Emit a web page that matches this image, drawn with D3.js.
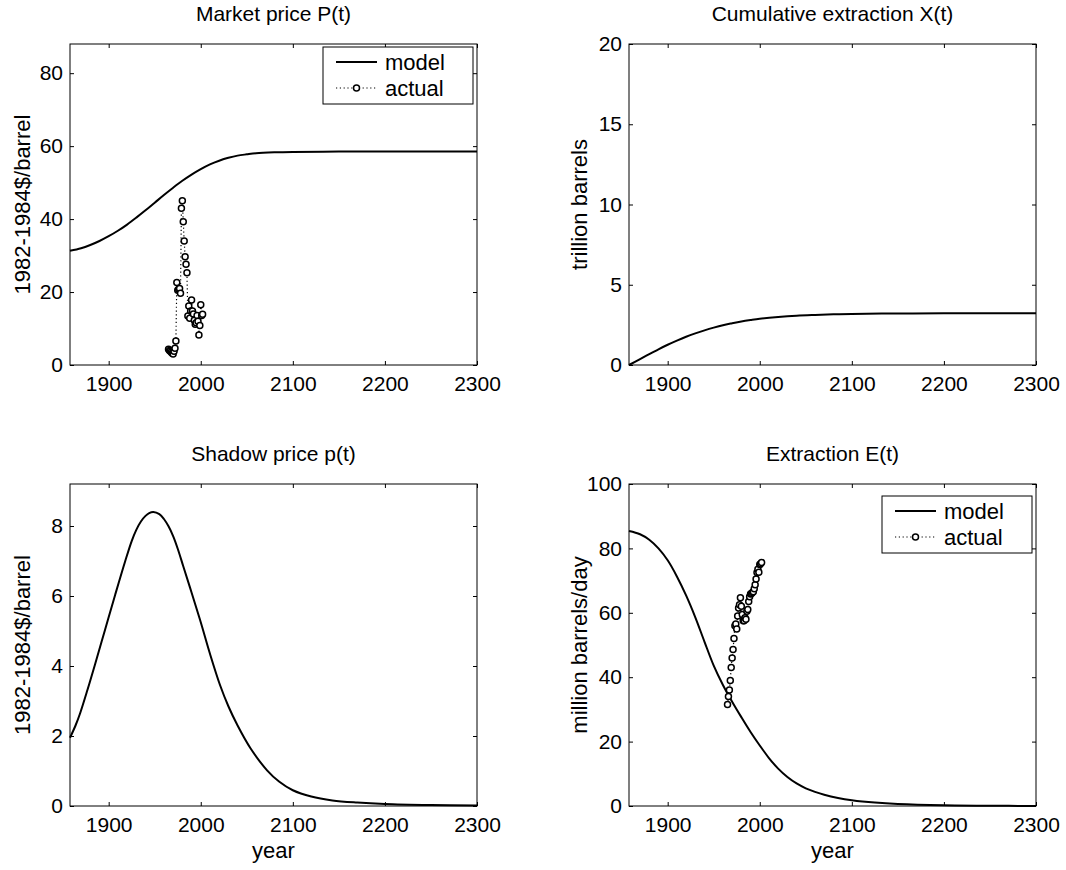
<!DOCTYPE html>
<html>
<head>
<meta charset="utf-8">
<script src="https://cdn.jsdelivr.net/npm/d3@7"></script>
<style>
  html, body { margin: 0; padding: 0; background: #fff; }
  svg { display: block; }
  text { font-family: "Liberation Sans", Arial, sans-serif; fill: #000; }
</style>
</head>
<body>
<svg id="chart" width="1066" height="870"></svg>
<script>
// ---- data -------------------------------------------------------------
const yearDomain = [1858, 2300];
const yearTicks = [1900, 2000, 2100, 2200, 2300];

// model trajectories: [year, value]
const marketPriceModel = [
  [1858, 31.3], [1870, 32.0], [1880, 32.9], [1890, 34.0], [1900, 35.3],
  [1910, 36.8], [1920, 38.5], [1930, 40.4], [1940, 42.4], [1950, 44.5],
  [1960, 46.6], [1970, 48.6], [1980, 50.5], [1990, 52.2], [2000, 53.7],
  [2010, 55.0], [2020, 56.0], [2030, 56.8], [2040, 57.4], [2050, 57.75],
  [2060, 58.05], [2080, 58.3], [2100, 58.42], [2150, 58.5], [2200, 58.5],
  [2300, 58.5]
];
const cumulativeModel = [
  [1858, 0], [1870, 0.37], [1880, 0.68], [1890, 0.98], [1900, 1.26],
  [1910, 1.52], [1920, 1.76], [1930, 1.97], [1940, 2.16], [1950, 2.33],
  [1960, 2.48], [1970, 2.60], [1980, 2.71], [1990, 2.80], [2000, 2.88],
  [2020, 2.99], [2040, 3.07], [2060, 3.12], [2080, 3.16], [2100, 3.18],
  [2150, 3.21], [2200, 3.22], [2300, 3.22]
];
const shadowPriceModel = [
  [1858, 1.95], [1864, 2.3], [1869, 2.65], [1877, 3.32], [1885, 4.03],
  [1896, 5.03], [1907, 6.03], [1918, 7.0], [1925, 7.57], [1930, 7.89],
  [1935, 8.13], [1940, 8.29], [1944, 8.37], [1948.5, 8.4], [1955, 8.34],
  [1960, 8.2], [1965, 7.99], [1970, 7.71], [1975, 7.35], [1981, 6.85],
  [1990, 6.1], [2000, 5.25], [2010, 4.35], [2021, 3.45], [2030, 2.85],
  [2040, 2.3], [2054, 1.65], [2072, 1.02], [2085, 0.7], [2100, 0.45],
  [2120, 0.27], [2143, 0.16], [2170, 0.1], [2200, 0.06], [2250, 0.03],
  [2300, 0.015]
];
const extractionModel = [
  [1858, 85.4], [1870, 84.4], [1880, 82.7], [1890, 80.0], [1900, 76.3],
  [1910, 71.3], [1920, 65.4], [1930, 58.6], [1940, 51.0], [1950, 43.6],
  [1960, 37.6], [1970, 32.4], [1980, 27.6], [1990, 23.0], [2000, 18.8],
  [2010, 14.9], [2020, 11.6], [2030, 9.0], [2040, 7.0], [2050, 5.5],
  [2060, 4.4], [2070, 3.5], [2085, 2.5], [2100, 1.8], [2125, 1.05],
  [2150, 0.6], [2200, 0.2], [2250, 0.07], [2300, 0.02]
];

// observed series, 1965-2002
const actualYears = d3.range(1965, 2003);
const actualPrice = [
  4.3, 4.0, 3.8, 3.5, 3.2, 3.0, 3.8, 4.6, 6.6, 22.6,
  20.5, 20.8, 21.0, 19.7, 43.0, 45.0, 39.3, 34.0, 29.7, 27.6,
  25.3, 13.4, 16.2, 12.8, 14.8, 17.8, 14.8, 14.0, 12.3, 11.2,
  11.6, 13.6, 12.0, 8.2, 10.8, 16.5, 13.6, 13.9
];
const actualExtraction = [
  31.5, 34.0, 36.0, 39.0, 43.0, 46.0, 48.6, 52.0, 56.0, 56.5,
  55.0, 59.0, 61.5, 62.5, 64.7, 62.0, 59.5, 57.5, 57.5, 58.5,
  58.0, 60.5, 61.0, 63.5, 65.0, 65.8, 66.0, 66.3, 66.5, 67.5,
  68.7, 70.5, 72.5, 73.5, 72.6, 75.0, 75.2, 75.6
];

const priceTicks = [0, 20, 40, 60, 80];
const cumulativeTicks = [0, 5, 10, 15, 20];
const shadowTicks = [0, 2, 4, 6, 8];
const extractionTicks = [0, 20, 40, 60, 80, 100];

// ---- layout -------------------------------------------------------------
const svg = d3.select("#chart");
svg.append("rect").attr("width", 1066).attr("height", 870).attr("fill", "#fff");

const FONT = 21;
const cols = [[70, 477], [629, 1036]];
const rows = [[44, 365], [484, 806]];

const panels = [
  { col: 0, row: 0, title: "Market price P(t)", ylabel: "1982-1984$/barrel",
    ymax: 88, yticks: priceTicks, model: marketPriceModel,
    actual: actualPrice, legend: true, xlabel: false },
  { col: 1, row: 0, title: "Cumulative extraction X(t)", ylabel: "trillion barrels",
    ymax: 20, yticks: cumulativeTicks, model: cumulativeModel,
    actual: null, legend: false, xlabel: false },
  { col: 0, row: 1, title: "Shadow price p(t)", ylabel: "1982-1984$/barrel",
    ymax: 9.2, yticks: shadowTicks, model: shadowPriceModel,
    actual: null, legend: false, xlabel: true },
  { col: 1, row: 1, title: "Extraction E(t)", ylabel: "million barrels/day",
    ymax: 100, yticks: extractionTicks, model: extractionModel,
    actual: actualExtraction, legend: true, xlabel: true }
];

function drawPanel(p) {
  const [x0, x1] = cols[p.col];
  const [y0, y1] = rows[p.row];
  const x = d3.scaleLinear().domain(yearDomain).range([x0, x1]);
  const y = d3.scaleLinear().domain([0, p.ymax]).range([y1, y0]);
  const g = svg.append("g");

  // axes with inward ticks on all four sides
  const styleAxis = sel => {
    sel.select(".domain").remove();
    sel.selectAll(".tick line").attr("stroke", "#000").attr("stroke-width", 1);
    sel.selectAll("text").attr("font-size", FONT)
      .attr("font-family", "Liberation Sans, Arial, sans-serif").attr("fill", "#000");
  };
  g.append("g").attr("transform", `translate(0,${y1})`)
    .call(d3.axisBottom(x).tickValues(yearTicks).tickFormat(d3.format("d"))
      .tickSizeInner(-4).tickSizeOuter(0).tickPadding(11))
    .call(styleAxis);
  g.append("g").attr("transform", `translate(0,${y0})`)
    .call(d3.axisTop(x).tickValues(yearTicks).tickFormat("")
      .tickSizeInner(-4).tickSizeOuter(0))
    .call(styleAxis);
  g.append("g").attr("transform", `translate(${x0},0)`)
    .call(d3.axisLeft(y).tickValues(p.yticks).tickFormat(d3.format("d"))
      .tickSizeInner(-4).tickSizeOuter(0).tickPadding(7))
    .call(styleAxis);
  g.append("g").attr("transform", `translate(${x1},0)`)
    .call(d3.axisRight(y).tickValues(p.yticks).tickFormat("")
      .tickSizeInner(-4).tickSizeOuter(0))
    .call(styleAxis);

  // frame
  g.append("rect")
    .attr("x", x0).attr("y", y0).attr("width", x1 - x0).attr("height", y1 - y0)
    .attr("fill", "none").attr("stroke", "#000").attr("stroke-width", 1);

  // model curve
  const line = d3.line().x(d => x(d[0])).y(d => y(d[1]))
    .curve(d3.curveCatmullRom.alpha(0.5));
  g.append("path").datum(p.model)
    .attr("d", line).attr("fill", "none")
    .attr("stroke", "#000").attr("stroke-width", 2);

  // observed series: dotted line with open circles
  if (p.actual) {
    const pts = actualYears.map((yr, i) => [yr, p.actual[i]]);
    g.append("path").datum(pts)
      .attr("d", d3.line().x(d => x(d[0])).y(d => y(d[1])))
      .attr("fill", "none").attr("stroke", "#000")
      .attr("stroke-width", 1.2).attr("stroke-dasharray", "1.2,2.6");
    g.selectAll("circle.obs").data(pts).join("circle")
      .attr("class", "obs")
      .attr("cx", d => x(d[0])).attr("cy", d => y(d[1])).attr("r", 3)
      .attr("fill", "#fff").attr("stroke", "#000").attr("stroke-width", 1.5);
  }

  // title
  g.append("text")
    .attr("x", (x0 + x1) / 2).attr("y", y0 - 23)
    .attr("text-anchor", "middle").attr("font-size", FONT)
    .text(p.title);

  // y label
  const lx = p.col === 0 ? 30 : 587;
  g.append("text")
    .attr("transform", `translate(${lx},${(y0 + y1) / 2}) rotate(-90)`)
    .attr("text-anchor", "middle").attr("font-size", FONT + 1)
    .text(p.ylabel);

  // x label
  if (p.xlabel) {
    g.append("text")
      .attr("x", (x0 + x1) / 2).attr("y", y1 + 52)
      .attr("text-anchor", "middle").attr("font-size", FONT + 1)
      .text("year");
  }

  // legend
  if (p.legend) {
    const lw = 150, lh = 57;
    const lx0 = x1 - 4 - lw;
    const ly0 = p.row === 0 ? y0 + 3 : y0 + 12;
    const lg = g.append("g").attr("transform", `translate(${lx0},${ly0})`);
    lg.append("rect").attr("width", lw).attr("height", lh)
      .attr("fill", "#fff").attr("stroke", "#000").attr("stroke-width", 1);
    lg.append("line").attr("x1", 13).attr("x2", 54).attr("y1", 15).attr("y2", 15)
      .attr("stroke", "#000").attr("stroke-width", 2);
    lg.append("text").attr("x", 62).attr("y", 15).attr("dy", "0.35em")
      .attr("font-size", FONT + 1).text("model");
    lg.append("line").attr("x1", 13).attr("x2", 54).attr("y1", 41).attr("y2", 41)
      .attr("stroke", "#000").attr("stroke-width", 1.2).attr("stroke-dasharray", "1.2,2.6");
    lg.append("circle").attr("cx", 33.5).attr("cy", 41).attr("r", 3)
      .attr("fill", "#fff").attr("stroke", "#000").attr("stroke-width", 1.5);
    lg.append("text").attr("x", 62).attr("y", 41).attr("dy", "0.35em")
      .attr("font-size", FONT + 1).text("actual");
  }
}

panels.forEach(drawPanel);
</script>
</body>
</html>
